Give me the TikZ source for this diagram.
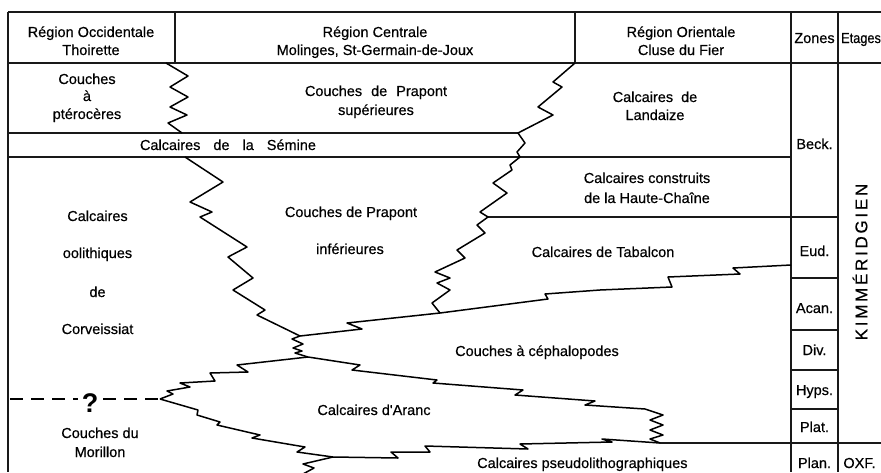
\documentclass[tikz,border=0pt]{standalone}
\usepackage{fontspec}
\setmainfont{Liberation Sans}
\newfontfamily\txtfont[FakeBold=0.5]{Liberation Sans}
\newfontfamily\kimfont[LetterSpace=16,FakeBold=0.5]{Liberation Sans}
\begin{document}
\begin{tikzpicture}[x=1pt,y=-1pt,
  frame/.style={line width=1.3pt,draw=black!90},
  zz/.style={line width=1.5pt,draw=black,line join=round},
  lbl/.style={font=\txtfont\fontsize{14.5}{18}\selectfont,inner sep=0pt,anchor=base},
  lblw/.style={lbl,anchor=base west}]
\useasboundingbox (0,0) rectangle (881,472);
% ---- frame ----
\draw[frame] (8,12) -- (881,12);
\draw[frame] (8,63) -- (881,63);
\draw[frame] (8,12) -- (8,472);
\draw[frame] (175,12) -- (175,63);
\draw[frame] (575,12) -- (575,63);
\draw[frame] (791,12) -- (791,472);
\draw[frame] (838,12) -- (838,472);
\draw[frame] (8,133) -- (518,133);
\draw[frame] (8,157) -- (791,157);
\draw[frame] (488,217) -- (838,217);
\draw[frame] (791,278) -- (838,278);
\draw[frame] (791,330) -- (838,330);
\draw[frame] (791,370) -- (838,370);
\draw[frame] (791,409) -- (838,409);
\draw[frame] (660,443) -- (881,443);
% ---- zigzags ----
\draw[zz] (166,63) -- (188,76) -- (170,87) -- (188,97) -- (170,107) -- (187,115) -- (168,123) -- (182,133);
\draw[zz] (575,63) -- (553,82) -- (562,87) -- (538,107) -- (553,115) -- (518,133) -- (525,143) -- (517,152) -- (520,157)
  -- (510,165) -- (512,170) -- (493,183) -- (507,193) -- (480,212) -- (488,217) -- (477,225) -- (485,233)
  -- (457,250) -- (465,258) -- (435,272) -- (450,278) -- (437,283) -- (450,290) -- (432,303) -- (440,313);
\draw[zz] (185,157) -- (223,182) -- (190,202) -- (212,212) -- (200,217) -- (247,247) -- (228,257) -- (253,278)
  -- (233,290) -- (265,310) -- (257,315) -- (300,336);
\draw[zz] (791,265) -- (733,268) -- (740,274) -- (668,277) -- (672,287) -- (600,290) -- (545,294) -- (548,299)
  -- (440,313) -- (347,323) -- (362,329) -- (300,336);
\draw[zz] (300,336) -- (292,339) -- (303,344) -- (293,348) -- (302,351) -- (295,353) -- (308,357);
\draw[zz] (308,357) -- (237,365) -- (248,372) -- (210,373) -- (215,381) -- (180,383) -- (190,387) -- (167,391)
  -- (173,394) -- (160,399);
\draw[zz] (308,357) -- (360,365) -- (352,370) -- (437,380) -- (433,383) -- (523,390) -- (515,395) -- (595,401)
  -- (585,405) -- (645,409) -- (663,415) -- (650,420) -- (663,425) -- (650,430) -- (663,435) -- (650,439) -- (660,443);
\draw[zz] (160,399) -- (198,410) -- (197,415) -- (220,422) -- (217,425) -- (260,435) -- (252,438) -- (305,447)
  -- (297,452) -- (333,457);
\draw[zz] (333,457) -- (398,458) -- (391,452) -- (430,452) -- (425,446) -- (528,449) -- (520,444) -- (612,442)
  -- (602,439) -- (660,443);
\draw[zz] (333,457) -- (303,464) -- (314,468) -- (303,474);
% dashed line with question mark
\draw[line width=1.3pt,dash pattern=on 13pt off 8pt] (10,399) -- (78,399);
\draw[line width=1.3pt,dash pattern=on 13pt off 8pt] (103,399) -- (160,399);
\node[inner sep=0pt,anchor=base,font=\fontsize{27}{30}\selectfont\bfseries] (q) at (90,412) {?};
% ---- headers ----
\node[lbl] (hw1) at (91,37) {Région Occidentale};
\node[lbl] (hw2) at (91,55) {Thoirette};
\node[lbl] (hc1) at (375,37) {Région Centrale};
\node[lbl] (hc2) at (375,55) {Molinges, St-Germain-de-Joux};
\node[lbl] (he1) at (681,37) {Région Orientale};
\node[lbl] (he2) at (681,55) {Cluse du Fier};
\node[lbl] (hz) at (814.5,43) {Zones};
\node[lblw,xscale=0.88] (het) at (841,43) {Etages};
% ---- formations ----
\node[lbl] (pt1) at (87,84) {Couches};
\node[lbl] (pt2) at (87,101) {à};
\node[lbl] (pt3) at (87,119) {ptérocères};
\node[lbl] (ps1) at (376,96) {Couches\hspace{9pt}de\hspace{9pt}Prapont};
\node[lbl] (ps2) at (376,115) {supérieures};
\node[lbl] (la1) at (655,102) {Calcaires\hspace{8pt}de};
\node[lbl] (la2) at (655,120) {Landaize};
\node[lbl] (se) at (228,150) {Calcaires\hspace{13pt}de\hspace{13pt}la\hspace{13pt}Sémine};
\node[lbl] (hc1b) at (647,183) {Calcaires construits};
\node[lbl] (hc2b) at (647,203) {de la Haute-Chaîne};
\node[lbl] (co1) at (97.5,221) {Calcaires};
\node[lbl] (co2) at (97.5,258) {oolithiques};
\node[lbl] (co3) at (97.5,297) {de};
\node[lbl] (co4) at (97.5,334) {Corveissiat};
\node[lbl] (pi1) at (351,217) {Couches de Prapont};
\node[lbl] (pi2) at (350,254) {inférieures};
\node[lbl] (ta) at (603,257) {Calcaires de Tabalcon};
\node[lbl] (ce) at (537,356) {Couches à céphalopodes};
\node[lbl] (ar) at (374,415) {Calcaires d'Aranc};
\node[lblw] (pl) at (477,468) {Calcaires pseudolithographiques};
\node[lbl] (mo1) at (100,438) {Couches du};
\node[lbl] (mo2) at (100,457) {Morillon};
% ---- zones ----
\node[lbl] (zb) at (814.5,149) {Beck.};
\node[lbl] (ze) at (814.5,256) {Eud.};
\node[lbl] (za) at (814.5,313) {Acan.};
\node[lbl] (zd) at (814.5,355) {Div.};
\node[lbl] (zh) at (814.5,395) {Hyps.};
\node[lbl] (zp) at (814.5,432) {Plat.};
\node[lbl] (zn) at (814.5,468) {Plan.};
\node[lbl] (ox) at (859.5,468) {OXF.};
\node[inner sep=0pt,rotate=90,font=\kimfont\fontsize{17}{20}\selectfont] (kim) at (860,262) {KIMMÉRIDGIEN};
\end{tikzpicture}
\end{document}
